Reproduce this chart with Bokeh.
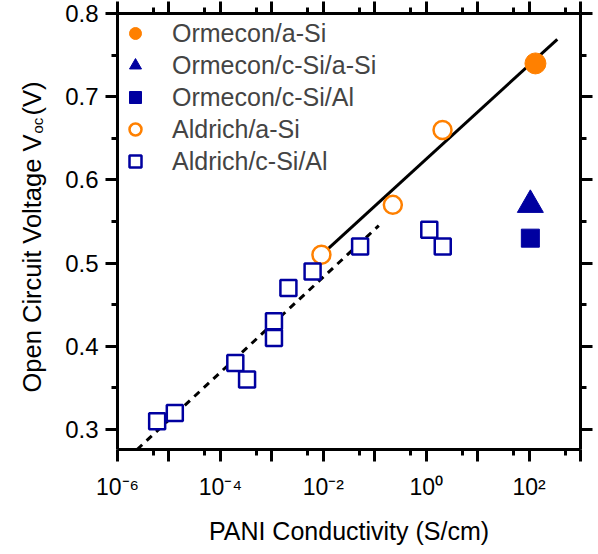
import math
from bokeh.plotting import figure
from bokeh.layouts import row
from bokeh.models import (Legend, LegendItem, FixedTicker, LogAxis, Range1d,
                          LinearAxis, CustomJSTickFormatter)
from bokeh.core.properties import value
from bokeh.embed import file_html
from bokeh.resources import INLINE

# ---------------- data ----------------
ormecon_asi_x = [133.0]
ormecon_asi_y = [0.74]
ormecon_csi_asi_x = [106.0]
ormecon_csi_asi_y = [0.57]
ormecon_csi_al_x = [106.0]
ormecon_csi_al_y = [0.53]
aldrich_asi_x = [0.0092, 0.225, 2.08]
aldrich_asi_y = [0.51, 0.57, 0.66]
aldrich_csi_al_x = [5.9e-6, 1.3e-5, 1.95e-4, 3.3e-4, 1.1e-3, 1.1e-3, 2.1e-3, 6.2e-3, 0.052, 1.15, 2.1]
aldrich_csi_al_y = [0.31, 0.32, 0.38, 0.36, 0.43, 0.41, 0.47, 0.49, 0.52, 0.54, 0.52]
fit_solid_x = [0.0092, 354.0]
fit_solid_y = [0.51, 0.769]
fit_dash_x = [2.4e-6, 0.12]
fit_dash_y = [0.276, 0.545]

legend_labels = ["Ormecon/a-Si", "Ormecon/c-Si/a-Si", "Ormecon/c-Si/Al",
                 "Aldrich/a-Si", "Aldrich/c-Si/Al"]

x_major = [1e-6, 1e-5, 1e-4, 1e-3, 1e-2, 1e-1, 1e0, 1e1, 1e2, 1e3]
x_minor = [5e-6, 5e-5, 5e-4, 5e-3, 5e-2, 5e-1, 5e0, 5e1, 5e2]
x_label_vals = [1e-6, 1e-4, 1e-2, 1e0, 1e2]
x_label_texts = ["10\u207b\u2076", "10\u207b\u2074", "10\u207b\u00b2", "10\u2070", "10\u00b2"]
y_major = [0.3, 0.4, 0.5, 0.6, 0.7, 0.8]
y_minor = [0.35, 0.45, 0.55, 0.65, 0.75]

x_title = "PANI Conductivity (S/cm)"
y_title_parts = ["Open Circuit Voltage V", "oc", "(V)"]

ORANGE = "#FF8000"
BLUE = "#0000A0"
FONT = "Liberation Sans"

TOP, BOTTOM, H = 13, 105, 554
LW = 60

# ---------------- y title panel (frame aligned with main plot) ----------------
ylab = figure(width=LW, height=H, x_range=Range1d(0, LW), y_range=Range1d(BOTTOM, H - TOP),
              min_border_left=0, min_border_right=0, min_border_top=TOP, min_border_bottom=BOTTOM,
              x_axis_location=None, y_axis_location=None,
              output_backend="svg", toolbar_location=None)
ylab.outline_line_color = None
ylab.xgrid.visible = False
ylab.ygrid.visible = False
ylab.text(x=[31.5], y=[162], text=[y_title_parts[0]], angle=math.pi / 2,
          text_font=value(FONT), text_font_size="25.5px", text_color="black",
          text_align="left", text_baseline="alphabetic")
ylab.text(x=[37], y=[421], text=[y_title_parts[1]], angle=math.pi / 2,
          text_font=value(FONT), text_font_size="15px", text_color="black",
          text_align="left", text_baseline="alphabetic")
ylab.text(x=[31.5], y=[439], text=[y_title_parts[2]], angle=math.pi / 2,
          text_font=value(FONT), text_font_size="25.5px", text_color="black",
          text_align="left", text_baseline="alphabetic")

# ---------------- main plot ----------------
p = figure(x_axis_type="log", x_range=(1e-6, 1e3), y_range=(0.276, 0.8),
           frame_width=463, frame_height=H - TOP - BOTTOM,
           min_border_left=117 - LW, min_border_right=18, min_border_top=TOP, min_border_bottom=BOTTOM,
           output_backend="svg", toolbar_location=None)
p.outline_line_color = None
p.xgrid.visible = False
p.ygrid.visible = False

blank = CustomJSTickFormatter(code="return ''")
xfmt = CustomJSTickFormatter(args=dict(vals=x_label_vals, texts=x_label_texts), code="""
    for (let i = 0; i < vals.length; i++) {
        if (Math.abs(Math.log10(tick) - Math.log10(vals[i])) < 1e-6) return texts[i];
    }
    return '';
""")

def style_axis(ax):
    ax.axis_line_width = 3
    ax.major_tick_line_width = 3
    ax.minor_tick_line_width = 3
    ax.major_tick_in = 0
    ax.major_tick_out = 12
    ax.minor_tick_in = 0
    ax.minor_tick_out = 6
    ax.axis_line_color = "black"
    ax.major_tick_line_color = "black"
    ax.minor_tick_line_color = "black"

xt = FixedTicker(ticks=x_major, minor_ticks=x_minor)
yt = FixedTicker(ticks=y_major, minor_ticks=y_minor)

xa = p.xaxis[0]
xa.ticker = xt
xa.formatter = xfmt
style_axis(xa)
xa.major_label_text_font = FONT
xa.major_label_text_font_size = "23px"
xa.major_label_text_color = "black"
xa.major_label_standoff = 12
xa.axis_label = x_title
xa.axis_label_text_font = FONT
xa.axis_label_text_font_size = "25px"
xa.axis_label_text_font_style = "normal"
xa.axis_label_text_color = "black"
xa.axis_label_standoff = 14

ya = p.yaxis[0]
ya.ticker = yt
style_axis(ya)
ya.major_label_text_font = FONT
ya.major_label_text_font_size = "24px"
ya.major_label_text_color = "black"
ya.major_label_standoff = 7

top = LogAxis(ticker=xt, formatter=blank)
style_axis(top)
p.add_layout(top, "above")
right = LinearAxis(ticker=yt, formatter=blank)
style_axis(right)
p.add_layout(right, "right")

# fit lines
p.line(fit_solid_x, fit_solid_y, line_color="black", line_width=3)
p.line(fit_dash_x, fit_dash_y, line_color="black", line_width=3, line_dash="7 6")

r1 = p.scatter(ormecon_asi_x, ormecon_asi_y, marker="circle", size=21,
               fill_color=ORANGE, line_color=ORANGE)
r2 = p.scatter(ormecon_csi_asi_x, ormecon_csi_asi_y, marker="triangle", size=26,
               fill_color=BLUE, line_color=BLUE)
r3 = p.scatter(ormecon_csi_al_x, ormecon_csi_al_y, marker="square", size=18,
               fill_color=BLUE, line_color=BLUE)
r4 = p.scatter(aldrich_asi_x, aldrich_asi_y, marker="circle", size=18,
               fill_color="white", line_color=ORANGE, line_width=2.5)
r5 = p.scatter(aldrich_csi_al_x, aldrich_csi_al_y, marker="square", size=16,
               fill_color="white", line_color=BLUE, line_width=2.5)

# one single-row legend per entry, each placed explicitly
ROW_H = 40
FRAME_H = H - TOP - BOTTOM
for i, (lab, rr) in enumerate(zip(legend_labels, [r1, r2, r3, r4, r5])):
    center = 33 + 32 * i - TOP          # row centre, px below frame top
    lg = Legend(items=[LegendItem(label=lab, renderers=[rr])],
                location=(3, FRAME_H - center - ROW_H / 2))
    lg.border_line_color = None
    lg.background_fill_alpha = 0
    lg.label_text_font = FONT
    lg.label_text_font_size = "25px"
    lg.glyph_width = 30
    lg.glyph_height = ROW_H
    lg.label_height = ROW_H
    lg.padding = 0
    lg.margin = 0
    lg.label_standoff = 22
    p.add_layout(lg)

layout = row(ylab, p, spacing=0)
open("out.html", "w").write(file_html(layout, INLINE))
